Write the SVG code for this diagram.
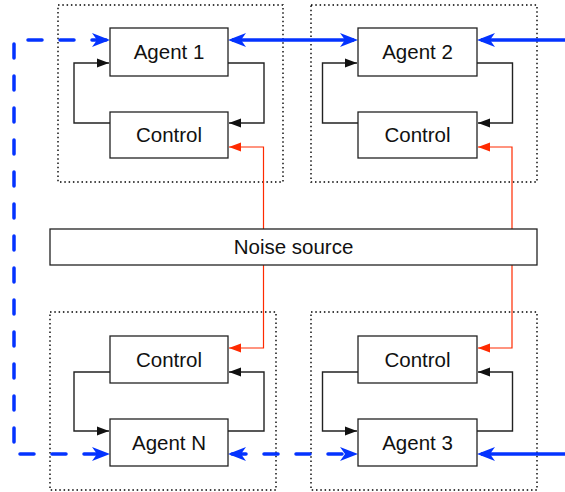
<svg xmlns="http://www.w3.org/2000/svg" width="565" height="492" viewBox="0 0 565 492">
<style>
.frame{fill:none;stroke:#000;stroke-width:1.4;stroke-dasharray:1.5 2.8}
.box{fill:#fff;stroke:#222;stroke-width:1.3}
.lbl{font-family:"Liberation Sans",Arial,sans-serif;font-size:20.5px;fill:#111;text-anchor:middle}
.fb{fill:none;stroke:#222;stroke-width:1.4;marker-end:url(#blk)}
.noise{fill:none;stroke:#ff2a00;stroke-width:1.2;marker-end:url(#red)}
.blue{fill:none;stroke:#0433ff;stroke-width:3.5}
.dash{stroke-dasharray:14 18;stroke-linecap:round}
</style>
<defs>
<marker id="bl" markerUnits="userSpaceOnUse" markerWidth="20" markerHeight="16" refX="14" refY="7" orient="auto-start-reverse" overflow="visible">
<path d="M0,0 L18,7 L0,14 L5,7 Z" fill="#0433ff"/>
</marker>
<marker id="blk" markerUnits="userSpaceOnUse" markerWidth="14" markerHeight="10" refX="12" refY="4.5" orient="auto" overflow="visible">
<path d="M0,0 L12,4.5 L0,9 Z" fill="#111"/>
</marker>
<marker id="red" markerUnits="userSpaceOnUse" markerWidth="14" markerHeight="10" refX="12" refY="4.5" orient="auto" overflow="visible">
<path d="M0,0 L12,4.5 L0,9 Z" fill="#ff2a00"/>
</marker>
</defs>

<rect class="frame" x="58" y="5" width="225" height="177"/>
<rect class="frame" x="311" y="5" width="226" height="177"/>
<rect class="frame" x="50" y="312" width="226" height="178"/>
<rect class="frame" x="311" y="312" width="226" height="178"/>

<g id="connectors">
<path class="fb" d="M228,63 H264 V123 H229"/>
<path class="fb" d="M110,123 H74 V63 H109"/>
<path class="fb" d="M477,63 H512.5 V123 H478"/>
<path class="fb" d="M358,123 H322.5 V63 H357"/>
<path class="fb" d="M110,372 H74 V431 H109"/>
<path class="fb" d="M228,431 H264 V372 H229"/>
<path class="fb" d="M358,372 H322.5 V431 H357"/>
<path class="fb" d="M477,431 H512.5 V372 H478"/>
<path class="noise" d="M263.5,229 V147 H229"/>
<path class="noise" d="M263.5,265 V348 H229"/>
<path class="noise" d="M512,229 V147 H478"/>
<path class="noise" d="M512,265 V348 H478"/>
<path class="blue" d="M232,40 H354" marker-start="url(#bl)" marker-end="url(#bl)"/>
<path class="blue" d="M565,40 H481" marker-end="url(#bl)"/>
<path class="blue" d="M565,454 H481" marker-end="url(#bl)"/>
<path class="blue dash" d="M106,40 H14 V454 H106" marker-start="url(#bl)" marker-end="url(#bl)"/>
<path class="blue dash" d="M232,454 H354" marker-start="url(#bl)" marker-end="url(#bl)"/>
</g>

<g id="agent1"><rect class="box" x="110" y="28" width="118" height="48"/><text class="lbl" x="169" y="59">Agent 1</text></g>
<g id="control1"><rect class="box" x="110" y="112" width="118" height="46"/><text class="lbl" x="169" y="142">Control</text></g>
<g id="agent2"><rect class="box" x="358" y="28" width="119" height="48"/><text class="lbl" x="417.5" y="59">Agent 2</text></g>
<g id="control2"><rect class="box" x="358" y="112" width="119" height="46"/><text class="lbl" x="417.5" y="142">Control</text></g>
<g id="noise"><rect class="box" x="50" y="229" width="487" height="36"/><text class="lbl" x="293.5" y="254">Noise source</text></g>
<g id="controlN"><rect class="box" x="110" y="336" width="118" height="47"/><text class="lbl" x="169" y="367">Control</text></g>
<g id="agentN"><rect class="box" x="110" y="419" width="118" height="47"/><text class="lbl" x="169" y="450">Agent N</text></g>
<g id="control3"><rect class="box" x="358" y="336" width="119" height="47"/><text class="lbl" x="417.5" y="367">Control</text></g>
<g id="agent3"><rect class="box" x="358" y="419" width="119" height="47"/><text class="lbl" x="417.5" y="450">Agent 3</text></g>
</svg>
